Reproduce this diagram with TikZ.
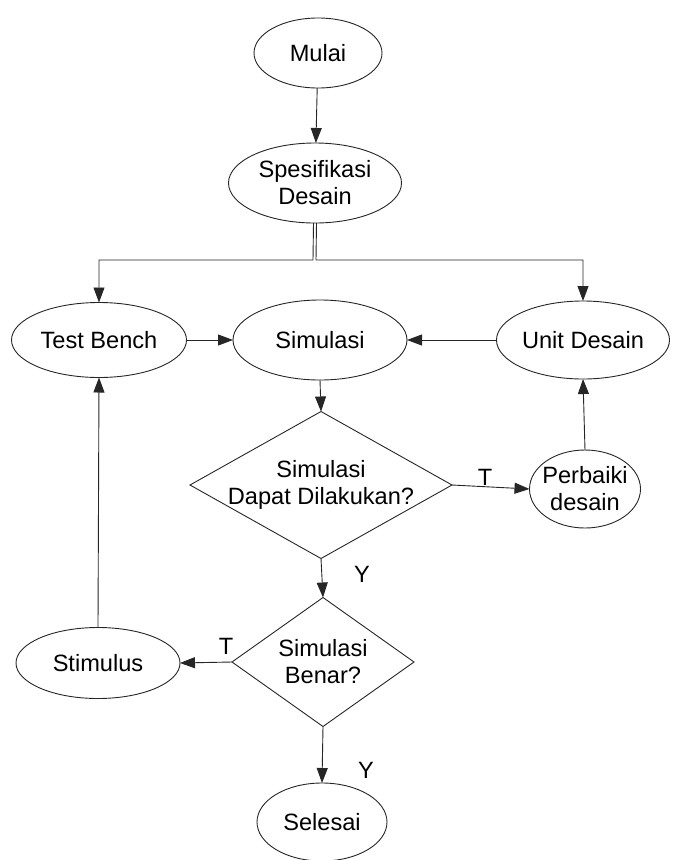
\documentclass[tikz,border=0pt]{standalone}
\usepackage{fontspec}
\setmainfont{Liberation Sans}
\usetikzlibrary{shapes.geometric,arrows.meta}
\begin{document}
\begin{tikzpicture}[x=1pt,y=-1pt,
  line/.style={draw=black!85, line width=0.9pt},
  arr/.style={line, -{Triangle[length=15pt,width=11pt]}},
  oval/.style={ellipse, line, inner sep=0pt, outer sep=0pt},
  dia/.style={diamond, line, inner sep=0pt, outer sep=0pt},
  txt/.style={align=center, inner sep=0pt, font=\fontsize{23.6}{27}\selectfont},
  lbl/.style={inner sep=0pt, font=\fontsize{23.6}{27}\selectfont}]
\useasboundingbox (0,0) rectangle (674,860);
% shapes
\node[oval, minimum width=128pt, minimum height=70pt] (mulai) at (318,53) {};
\node[txt] (mulait) at (mulai) {Mulai};
\node[oval, minimum width=173pt, minimum height=80pt] (spes) at (315,183) {};
\node[txt] (spest) at (spes) {Spesifikasi\\Desain};
\node[oval, minimum width=175pt, minimum height=75pt] (tb) at (99,340) {};
\node[txt] (tbt) at (tb) {Test Bench};
\node[oval, minimum width=174pt, minimum height=80pt] (sim) at (320,340) {};
\node[txt] (simt) at (sim) {Simulasi};
\node[oval, minimum width=173pt, minimum height=78pt] (ud) at (583,340) {};
\node[txt] (udt) at (ud) {Unit Desain};
\node[dia, minimum width=262pt, minimum height=147pt] (d1) at (321,485) {};
\node[txt] (d1t) at (d1) {Simulasi\\Dapat Dilakukan?};
\node[oval, minimum width=111pt, minimum height=78pt] (pd) at (585,489) {};
\node[txt] (pdt) at (pd) {Perbaiki\\desain};
\node[dia, minimum width=182pt, minimum height=129pt] (d2) at (323,662) {};
\node[txt] (d2t) at (d2) {Simulasi\\Benar?};
\node[oval, minimum width=164pt, minimum height=71pt] (stim) at (98,663) {};
\node[txt] (stimt) at (stim) {Stimulus};
\node[oval, minimum width=130pt, minimum height=78pt] (sel) at (322,822) {};
\node[txt] (selt) at (sel) {Selesai};
% connectors
\coordinate (splitL) at (313,260);
\coordinate (splitR) at (316,260);
\draw[arr] (mulai) -- (spes);
\draw[arr] ([xshift=-1.5pt]spes.south) -- (splitL) -| (tb.north);
\draw[arr] ([xshift=1.5pt]spes.south) -- (splitR) -| (ud.north);
\draw[arr] (tb.east) -- (sim.west);
\draw[arr] (ud.west) -- (sim.east);
\draw[arr] (sim.south) -- (d1.north);
\draw[arr] (d1.east) -- (pd.west);
\draw[arr] (pd.north) -- (ud.south);
\draw[arr] (d1.south) -- (d2.north);
\draw[arr] (d2.west) -- (stim.east);
\draw[arr] (stim.north) -- (tb.south);
\draw[arr] (d2.south) -- (sel.north);
% labels
\node[lbl] (lt1) at (485,477) {T};
\node[lbl] (ly1) at (362,574) {Y};
\node[lbl] (lt2) at (226,646) {T};
\node[lbl] (ly2) at (366,770) {Y};
\end{tikzpicture}
\end{document}
